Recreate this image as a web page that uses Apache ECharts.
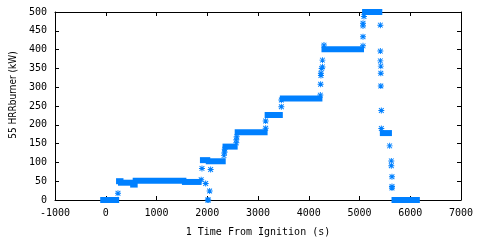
<!DOCTYPE html>
<html>
<head>
<meta charset="utf-8">
<script src="https://cdn.jsdelivr.net/npm/echarts@6/dist/echarts.min.js"></script>
<style>
  html, body { margin: 0; padding: 0; background: #fff; }
  #chart { width: 480px; height: 240px; }
</style>
</head>
<body>
<div id="chart"></div>
<script>
// steady stretches of burner HRR: start time, end time, level (kW)
var stepStart = [-50, 262, 300, 540, 590, 1560, 1915, 2030, 2360, 2600, 3190, 3490, 4310, 5110, 5460, 5690];
var stepEnd   = [205, 290, 520, 570, 1530, 1830, 2000, 2305, 2540, 3130, 3430, 4210, 5030, 5390, 5580, 6130];
var stepLevel = [0, 50, 46, 41, 51, 48, 106, 103, 142, 180, 226, 270, 401, 500, 178, 0];

// single readings between the steady stretches
var pointTime = [241, 1880, 1896, 1969, 2047, 2067, 2010, 2020,
  2330, 2340, 2345, 2573, 2573, 2580, 3151, 3151, 3460, 3460,
  4228, 4234, 4240, 4240, 4255, 4270, 4270, 4300,
  5069, 5069, 5069, 5069, 5088,
  5411, 5411, 5411, 5420, 5420, 5420, 5430, 5430,
  5594, 5627, 5627, 5640, 5640, 5640];
var pointHRR = [18, 54, 84, 44, 24, 81, 0, 0,
  118, 127, 135, 152, 160, 168, 191, 210, 248, 266,
  279, 308, 331, 337, 350, 354, 372, 412,
  410, 434, 463, 470, 488,
  465, 396, 370, 356, 337, 303, 238, 190,
  144, 104, 91, 62, 36, 32];

var xTicks = [-1000, 0, 1000, 2000, 3000, 4000, 5000, 6000, 7000];
var yTicks = [0, 50, 100, 150, 200, 250, 300, 350, 400, 450, 500];

var blue = '#0080ff';
var monoFont = 'DejaVu Sans Mono';
// gnuplot style asterisk (plus + cross)
var star = 'path://M0 4.2L10 4.2L10 5.8L0 5.8Z M4.2 0L5.8 0L5.8 10L4.2 10Z ' +
  'M0.5 1.6L1.6 0.5L9.5 8.4L8.4 9.5Z M8.4 0.5L9.5 1.6L1.6 9.5L0.5 8.4Z';

var steps = stepStart.map(function (s, i) { return [s, stepEnd[i], stepLevel[i]]; });
var points = pointTime.map(function (t, i) { return [t, pointHRR[i]]; });

var chart = echarts.init(document.getElementById('chart'), null, { renderer: 'canvas' });

function plain(v) { return String(v); }

function axisBase(extra) {
  var base = {
    type: 'value',
    axisLine: { show: true, onZero: false, lineStyle: { color: '#000', width: 1 } },
    axisTick: { show: true, inside: true, length: 4, lineStyle: { color: '#000' } },
    splitLine: { show: false },
    axisLabel: { color: '#000', fontFamily: monoFont, fontSize: 10, formatter: plain }
  };
  return Object.assign(base, extra);
}

var option = {
  animation: false,
  backgroundColor: '#fff',
  grid: { left: 55, right: 19, top: 12, bottom: 40, outerBoundsMode: 'none' },
  xAxis: [
    axisBase({
      position: 'bottom', min: xTicks[0], max: xTicks[xTicks.length - 1], interval: 1000,
      name: '1 Time From Ignition (s)', nameLocation: 'middle', nameGap: 27,
      nameTextStyle: { color: '#000', fontFamily: monoFont, fontSize: 10 },
      axisLabel: { color: '#000', fontFamily: monoFont, fontSize: 10, margin: 8, formatter: plain }
    }),
    axisBase({
      position: 'top', min: xTicks[0], max: xTicks[xTicks.length - 1], interval: 1000,
      axisLabel: { show: false }
    })
  ],
  yAxis: [
    axisBase({
      position: 'left', min: yTicks[0], max: yTicks[yTicks.length - 1], interval: 50,
      name: '55 HRRburner (kW)', nameLocation: 'middle', nameGap: 37,
      nameTextStyle: { color: '#000', fontFamily: "'Liberation Sans Narrow', 'DejaVu Sans Condensed', sans-serif", fontSize: 10, padding: [0, 0, 0, 22] },
      axisLabel: { color: '#000', fontFamily: monoFont, fontSize: 10, margin: 8, formatter: plain }
    }),
    axisBase({
      position: 'right', min: yTicks[0], max: yTicks[yTicks.length - 1], interval: 50,
      axisLabel: { show: false }
    })
  ],
  series: [
    {
      type: 'custom',
      xAxisIndex: 0,
      yAxisIndex: 0,
      clip: false,
      data: steps,
      encode: { x: [0, 1], y: 2 },
      renderItem: function (params, api) {
        var a = api.coord([api.value(0), api.value(2)]);
        var b = api.coord([api.value(1), api.value(2)]);
        return {
          type: 'rect',
          shape: { x: a[0] - 3, y: a[1] - 3, width: b[0] - a[0] + 6, height: 6 },
          style: { fill: blue }
        };
      }
    },
    {
      type: 'scatter',
      xAxisIndex: 0,
      yAxisIndex: 0,
      data: points,
      symbol: star,
      symbolSize: 6,
      itemStyle: { color: blue, opacity: 1 }
    }
  ]
};

chart.setOption(option);
</script>
</body>
</html>
